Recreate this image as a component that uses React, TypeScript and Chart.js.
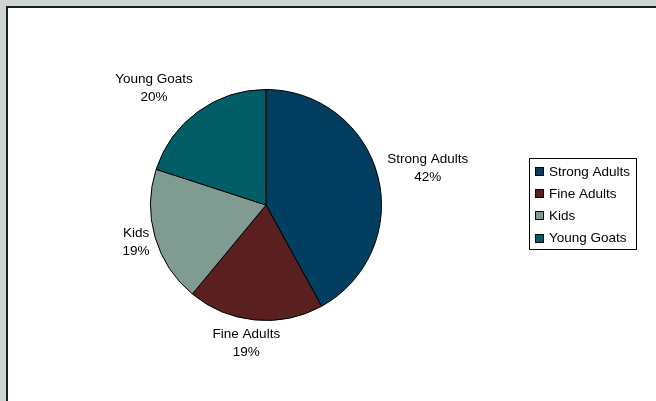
import React, { useEffect, useRef } from "react";
import { Chart, registerables } from "chart.js";

Chart.register(...registerables);

const categories = ["Strong Adults", "Fine Adults", "Kids", "Young Goats"];
const values = [42, 19, 19, 20];
const percentLabels = ["42%", "19%", "19%", "20%"];
const colors = ["#013E5F", "#5A1F1F", "#7F9B92", "#015D66"];

// label anchor offsets from pie centre, in units of pie radius
const labelOffsets: [number, number][] = [
  [1.40, -0.33],
  [-0.17, 1.185],
  [-1.125, 0.31],
  [-0.97, -1.02],
];

const FONT = '13.5px "Liberation Sans", Arial, sans-serif';

const overlayPlugin = {
  id: "overlay",
  afterDraw(chart: any) {
    const ctx = chart.ctx as CanvasRenderingContext2D;
    const meta = chart.getDatasetMeta(0);
    const arc0 = meta.data[0] as any;
    const cx = arc0.x;
    const cy = arc0.y;
    const r = arc0.outerRadius;
    ctx.save();
    ctx.font = FONT;
    ctx.fillStyle = "#000";
    ctx.textAlign = "center";
    ctx.textBaseline = "middle";
    categories.forEach((c, i) => {
      const [ox, oy] = labelOffsets[i];
      const x = cx + ox * r;
      const y = cy + oy * r;
      ctx.fillText(c, x, y - 7.5);
      ctx.fillText(percentLabels[i], x, y + 10.5);
    });

    // legend
    const lx = 529.5;
    const ly = 158.5;
    const lw = 107;
    const lh = 91;
    ctx.fillStyle = "#fff";
    ctx.fillRect(lx, ly, lw, lh);
    ctx.strokeStyle = "#000";
    ctx.lineWidth = 1;
    ctx.strokeRect(lx, ly, lw, lh);
    ctx.textAlign = "left";
    categories.forEach((c, i) => {
      const rowY = 172 + i * 22.2;
      ctx.fillStyle = colors[i];
      ctx.fillRect(535.5, Math.round(rowY) - 4.5, 8, 8);
      ctx.strokeStyle = "#000";
      ctx.strokeRect(535.5, Math.round(rowY) - 4.5, 8, 8);
      ctx.fillStyle = "#000";
      ctx.fillText(c, 549, rowY);
    });
    ctx.restore();
  },
};

export default function App() {
  const ref = useRef<HTMLCanvasElement | null>(null);
  useEffect(() => {
    if (!ref.current) return;
    const chart = new Chart(ref.current, {
      type: "pie",
      data: {
        labels: categories,
        datasets: [
          {
            data: values,
            backgroundColor: colors,
            borderColor: "#000",
            borderWidth: 1,
          },
        ],
      },
      options: {
        responsive: false,
        animation: false,
        devicePixelRatio: 1,
        layout: { padding: { left: 150, right: 274, top: 89, bottom: 80 } },
        plugins: {
          legend: { display: false },
          tooltip: { enabled: false },
        },
      },
      plugins: [overlayPlugin],
    });
    return () => chart.destroy();
  }, []);

  return (
    <div
      style={{
        position: "fixed",
        left: 0,
        top: 0,
        width: 656,
        height: 401,
        background: "#cdd6d3",
        overflow: "hidden",
      }}
    >
      <div
        style={{
          position: "absolute",
          left: 6,
          top: 6,
          width: 650,
          height: 395,
          background: "#fff",
          borderLeft: "2px solid #1e1e1e",
          borderTop: "2px solid #1e1e1e",
        }}
      />
      <canvas
        ref={ref}
        width={656}
        height={401}
        style={{ position: "absolute", left: 0, top: 0, width: 656, height: 401 }}
      />
    </div>
  );
}
